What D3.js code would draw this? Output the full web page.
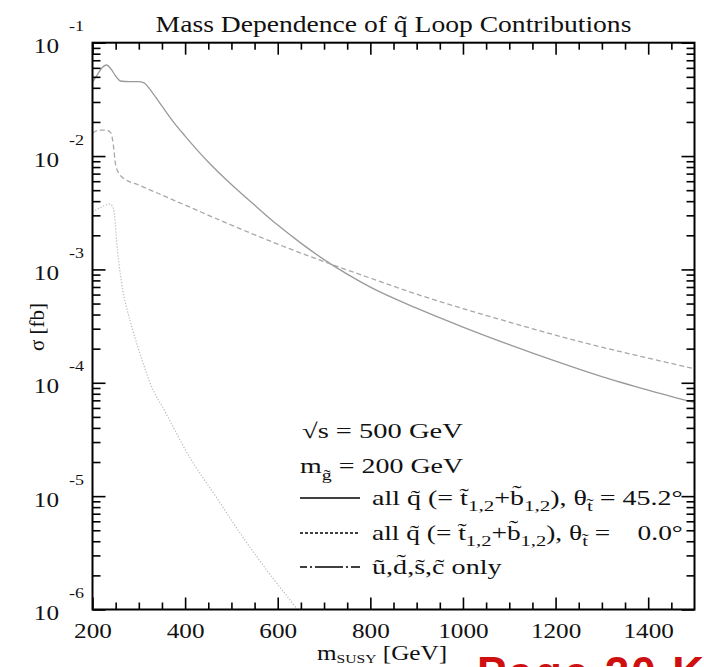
<!DOCTYPE html>
<html>
<head>
<meta charset="utf-8">
<script src="https://cdn.jsdelivr.net/npm/d3@7"></script>
<style>
  body { margin: 0; background: #fff; }
  text { font-family: "Liberation Serif", "DejaVu Serif", serif; fill: #111; }
</style>
</head>
<body>
<div id="wrapper"></div>
<script>
// mass in GeV, cross section in fb
const massSolid = [200, 210, 220, 230, 240, 250, 260, 280, 300, 310, 330, 350, 375, 400, 450, 500, 550, 600, 650, 700, 750, 800, 900, 1000, 1100, 1200, 1300, 1400, 1500]
const sigmaSolid = [0.04498, 0.05187, 0.05978, 0.06355, 0.05858, 0.05083, 0.04592, 0.04527, 0.04527, 0.04454, 0.03597, 0.02762, 0.01996, 0.01501, 0.008855, 0.005603, 0.003694, 0.002460, 0.001706, 0.001221, 0.000909, 0.000698, 0.000455, 0.000310, 0.000217, 0.000155, 0.0001132, 0.0000860, 0.0000667]

const massDashed = [200, 215, 230, 240, 245, 250, 258, 270, 300, 350, 400, 500, 600, 700, 800, 900, 1000, 1100, 1200, 1300, 1400, 1500]
const sigmaDashed = [0.01596, 0.01696, 0.01696, 0.01596, 0.01251, 0.008329, 0.006937, 0.006266, 0.005546, 0.004526, 0.003694, 0.002460, 0.001672, 0.001172, 0.000838, 0.000605, 0.000451, 0.000343, 0.000263, 0.000206, 0.000165, 0.000133]

const massDotted = [200, 215, 237, 243, 247.5, 251, 254.6, 262, 265.4, 276.2, 287, 316, 323, 359, 409.4, 467, 524.4, 582, 639.7, 660]
const sigmaDotted = [0.003221, 0.003475, 0.003767, 0.003622, 0.003013, 0.002009, 0.001393, 0.000805, 0.000656, 0.000420, 0.000291, 0.000124, 0.000103, 0.0000536, 0.0000222, 0.00000984, 0.00000437, 0.00000207, 0.00000103, 0.00000079]

const xTickLabels = ["200", "400", "600", "800", "1000", "1200", "1400"]
const yTickLabels = ["-1", "-2", "-3", "-4", "-5", "-6"]

const titleText = "Mass Dependence of q\u0303 Loop Contributions"
const footerText = "Page 20 K"

const width = 704
const height = 667
const plot = { left: 92.5, right: 694.5, top: 42.7, bottom: 609.5 }
const sx = 1.2   // the reference is stretched sideways

const svg = d3.select("#wrapper")
  .append("svg")
    .attr("width", width)
    .attr("height", height)

const xScale = d3.scaleLinear()
  .domain([200, 1500])
  .range([plot.left, plot.right])

const yScale = d3.scaleLog()
  .domain([1e-6, 1e-1])
  .range([plot.bottom, plot.top])

function stretched(parent, x, y, size, anchor) {
  return parent.append("g")
      .attr("transform", `translate(${x},${y}) scale(${sx},1)`)
    .append("text")
      .attr("font-size", size)
      .attr("text-anchor", anchor || "start")
}

// curves
svg.append("clipPath").attr("id", "clip")
  .append("rect")
    .attr("x", plot.left).attr("y", plot.top)
    .attr("width", plot.right - plot.left)
    .attr("height", plot.bottom - plot.top)

const line = d3.line()
  .x(d => xScale(d[0]))
  .y(d => yScale(d[1]))
  .curve(d3.curveMonotoneX)

const curves = svg.append("g").attr("clip-path", "url(#clip)")

curves.append("path")
  .attr("d", line(d3.zip(massSolid, sigmaSolid)))
  .attr("fill", "none")
  .attr("stroke", "#9a9a9a")
  .attr("stroke-width", 1.3)

curves.append("path")
  .attr("d", line(d3.zip(massDashed, sigmaDashed)))
  .attr("fill", "none")
  .attr("stroke", "#a8a8a8")
  .attr("stroke-width", 1.3)
  .attr("stroke-dasharray", "5,3")

curves.append("path")
  .attr("d", line(d3.zip(massDotted, sigmaDotted)))
  .attr("fill", "none")
  .attr("stroke", "#b8b8b8")
  .attr("stroke-width", 1.2)
  .attr("stroke-dasharray", "1.2,1.8")

// axes, ticks pointing inwards on all four sides
const xMajor = xTickLabels.map(Number)
const xMinor = d3.range(250, 1500, 50).filter(v => v % 200 !== 0)
const yMajor = yTickLabels.map(e => Math.pow(10, +e))
const yMinor = []
yMajor.slice(1).forEach(p => d3.range(2, 10).forEach(k => yMinor.push(p * k)))

function addAxis(gen, tx, ty) {
  const g = svg.append("g")
    .attr("transform", `translate(${tx},${ty})`)
    .call(gen)
  g.select(".domain").remove()
  g.selectAll(".tick line").attr("stroke", "#000").attr("stroke-width", 1.6)
  return g
}

const xAxis = addAxis(d3.axisBottom(xScale).tickValues(xMajor).tickSize(-12).tickPadding(14)
  .tickFormat((d, i) => xTickLabels[i]), 0, plot.bottom)
xAxis.selectAll(".tick text")
  .attr("font-size", 21)
  .attr("font-family", "Liberation Serif")
  .attr("fill", "#111")
  .attr("transform", `scale(${sx},1)`)
addAxis(d3.axisBottom(xScale).tickValues(xMinor).tickSize(-7).tickFormat(""), 0, plot.bottom)
addAxis(d3.axisTop(xScale).tickValues(xMajor).tickSize(-12).tickFormat(""), 0, plot.top)
addAxis(d3.axisTop(xScale).tickValues(xMinor).tickSize(-7).tickFormat(""), 0, plot.top)

const yAxis = addAxis(d3.axisLeft(yScale).tickValues(yMajor).tickSize(-13).tickFormat(""), plot.left, 0)
addAxis(d3.axisLeft(yScale).tickValues(yMinor).tickSize(-8).tickFormat(""), plot.left, 0)
addAxis(d3.axisRight(yScale).tickValues(yMajor).tickSize(-13).tickFormat(""), plot.right, 0)
addAxis(d3.axisRight(yScale).tickValues(yMinor).tickSize(-8).tickFormat(""), plot.right, 0)

yAxis.selectAll(".tick").each(function(d, i) {
  const tick = d3.select(this)
  stretched(tick, -33.5, 10, 21, "end").text("10")
  stretched(tick, -23.5, -12, 15, "start").text(yTickLabels[i])
})

// frame
svg.append("rect")
  .attr("x", plot.left).attr("y", plot.top)
  .attr("width", plot.right - plot.left)
  .attr("height", plot.bottom - plot.top)
  .attr("fill", "none")
  .attr("stroke", "#000")
  .attr("stroke-width", 2)

// title and axis labels
stretched(svg, (plot.left + plot.right) / 2, 32, 23, "middle").text(titleText)

svg.append("text")
  .attr("transform", "translate(44,327) rotate(-90)")
  .attr("text-anchor", "middle")
  .attr("font-size", 21)
  .text("\u03c3 [fb]")

const xLabel = stretched(svg, 317, 660, 21, "start")
xLabel.append("tspan").text("m")
xLabel.append("tspan").attr("font-size", 13).attr("dy", 3).text("SUSY")
xLabel.append("tspan").attr("dy", -3).text(" [GeV]")

// red note at the lower edge, mostly cut off in the reference
svg.append("text")
  .attr("x", 477)
  .attr("y", 688)
  .attr("font-size", 44)
  .attr("textLength", 227)
  .attr("lengthAdjust", "spacing")
  .style("font-family", "'Liberation Sans', Arial, sans-serif")
  .style("font-weight", "bold")
  .style("fill", "#d01010")
  .text(footerText)

// legend
const legend = svg.append("g")

stretched(legend, 302, 438, 21, "start")
  .attr("textLength", 134).attr("lengthAdjust", "spacingAndGlyphs")
  .text("\u221as = 500 GeV")
const mg = stretched(legend, 300, 473, 21, "start")
  .attr("textLength", 136).attr("lengthAdjust", "spacingAndGlyphs")
mg.append("tspan").text("m")
mg.append("tspan").attr("font-size", 15).attr("dy", 7).text("g\u0303")
mg.append("tspan").attr("dy", -7).text(" = 200 GeV")

const legendRows = [
  { y: 498, dash: null, angle: "45.2\u00b0", len: 259 },
  { y: 533, dash: "3,2", angle: "\u00a0\u00a0 0.0\u00b0", len: 259 },
  { y: 567, dash: "7,3,2,3,28,3,2,3,9", angle: null, len: 108 }
]

legendRows.forEach(row => {
  legend.append("line")
    .attr("x1", 300).attr("x2", 360)
    .attr("y1", row.y).attr("y2", row.y)
    .attr("stroke", "#000")
    .attr("stroke-width", 1.5)
    .attr("stroke-dasharray", row.dash)

  const t = stretched(legend, 372, row.y + 7, 20, "start")
    .attr("textLength", row.len)
    .attr("lengthAdjust", "spacingAndGlyphs")
  if (row.angle) {
    t.append("tspan").text("all q\u0303 (= t\u0303")
    t.append("tspan").attr("font-size", 15).attr("dy", 6).text("1,2")
    t.append("tspan").attr("dy", -6).text("+b\u0303")
    t.append("tspan").attr("font-size", 15).attr("dy", 6).text("1,2")
    t.append("tspan").attr("dy", -6).text("), \u03b8")
    t.append("tspan").attr("font-size", 15).attr("dy", 6).text("t\u0303")
    t.append("tspan").attr("dy", -6).text(" = " + row.angle)
  } else {
    t.text("u\u0303,d\u0303,s\u0303,c\u0303 only")
  }
})
</script>
</body>
</html>
